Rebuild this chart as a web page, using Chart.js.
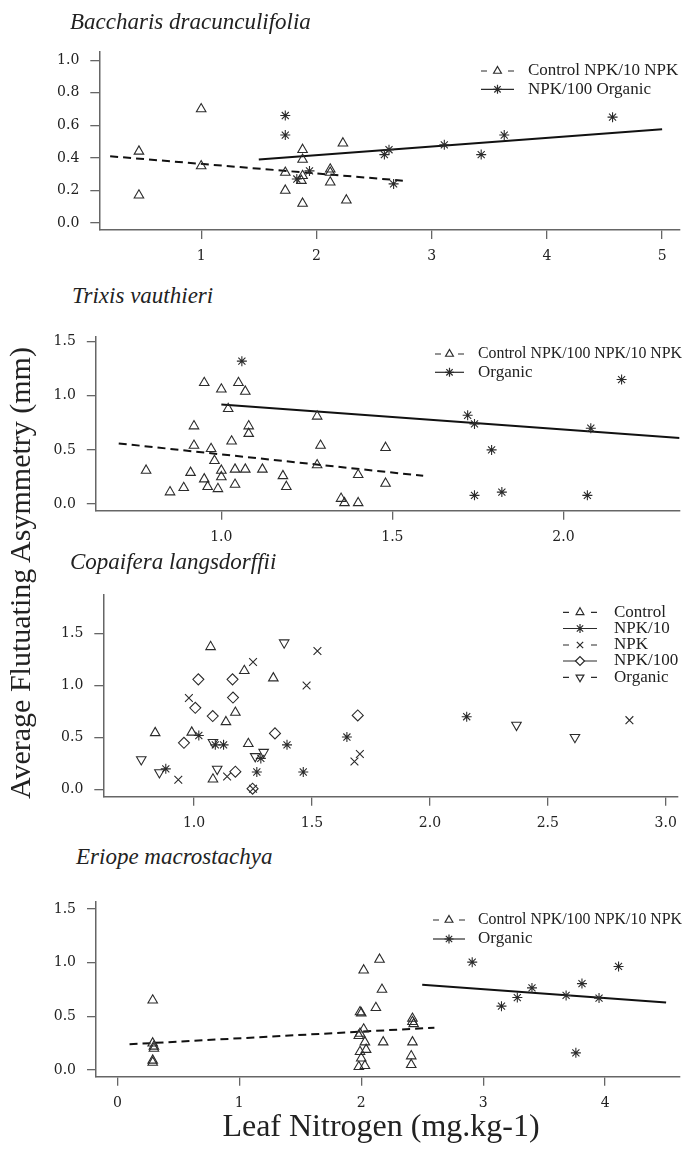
<!DOCTYPE html>
<html>
<head>
<meta charset="utf-8">
<title>Leaf nitrogen and fluctuating asymmetry</title>
<script src="https://cdn.jsdelivr.net/npm/chart.js@4.4.1/dist/chart.umd.min.js"></script>
<style>
  html, body { margin: 0; padding: 0; background: #fff; }
  #fig { position: relative; width: 683px; height: 1156px; overflow: hidden; }
  canvas { position: absolute; left: 0; }
  .sp { position: absolute; font: italic 23px "Liberation Serif", serif; color: #222; white-space: nowrap; line-height: 23px; }
  .axt { position: absolute; width: 500px; text-align: center; font-family: "Liberation Serif", serif; color: #222; white-space: nowrap; }
  #ytitle { font-size: 30px; line-height: 34px; height: 34px; left: -229.6px; top: 556px; transform: rotate(-90deg); }
  #xtitle { font-size: 32px; line-height: 36px; height: 36px; left: 131px; top: 1107px; }
</style>
</head>
<body>
<div id="fig">
  <canvas id="c1" width="686" height="247" style="top:28px"></canvas>
  <canvas id="c2" width="686" height="233" style="top:312px"></canvas>
  <canvas id="c3" width="686" height="264" style="top:571px"></canvas>
  <canvas id="c4" width="686" height="238" style="top:877px"></canvas>
  <div class="sp" style="left:70px; top:10px">Baccharis dracunculifolia</div>
  <div class="sp" style="left:72px; top:284px">Trixis vauthieri</div>
  <div class="sp" style="left:70px; top:550px">Copaifera langsdorffii</div>
  <div class="sp" style="left:76px; top:845px">Eriope macrostachya</div>
  <div id="ytitle" class="axt">Average Flutuating Asymmetry (mm)</div>
  <div id="xtitle" class="axt">Leaf Nitrogen (mg.kg-1)</div>
</div>
<script>
// ---- Baccharis dracunculifolia ----
const bacTriX = [0.46, 0.46, 1.00, 1.00, 1.73, 1.73, 1.88, 1.88, 1.88, 1.87, 1.88, 2.12, 2.12, 2.12, 2.23, 2.26];
const bacTriY = [0.44, 0.17, 0.70, 0.35, 0.31, 0.20, 0.45, 0.39, 0.29, 0.26, 0.12, 0.33, 0.31, 0.25, 0.49, 0.14];
const bacStarX = [1.73, 1.73, 1.83, 1.94, 2.59, 2.63, 2.67, 3.11, 3.43, 3.63, 4.57];
const bacStarY = [0.66, 0.54, 0.27, 0.32, 0.42, 0.45, 0.24, 0.48, 0.42, 0.54, 0.65];
const bacDashX = [0.21, 2.75];
const bacDashY = [0.41, 0.26];
const bacFitX = [1.5, 5.0];
const bacFitY = [0.39, 0.575];
const bacXTicks = [1, 2, 3, 4, 5];
const bacXLabels = ['1', '2', '3', '4', '5'];
const bacYTicks = [0, 0.2, 0.4, 0.6, 0.8, 1.0];
const bacYLabels = ['0.0', '0.2', '0.4', '0.6', '0.8', '1.0'];
const bacLegend = ['Control NPK/10 NPK', 'NPK/100 Organic'];

// ---- Trixis vauthieri ----
const triTriX = [0.78, 0.85, 0.89, 0.91, 0.92, 0.92, 0.95, 0.95, 0.96, 0.97, 0.98, 0.99, 1.00, 1.00, 1.00, 1.02, 1.03, 1.04,
                 1.04, 1.05, 1.07, 1.07, 1.08, 1.08, 1.12, 1.18, 1.19, 1.28, 1.28, 1.29, 1.35, 1.36, 1.40, 1.40, 1.48, 1.48];
const triTriY = [0.31, 0.11, 0.15, 0.29, 0.54, 0.72, 1.12, 0.23, 0.16, 0.51, 0.40, 0.14, 1.06, 0.31, 0.25, 0.88, 0.58, 0.18,
                 0.32, 1.12, 1.04, 0.32, 0.72, 0.65, 0.32, 0.26, 0.16, 0.81, 0.36, 0.54, 0.05, 0.01, 0.01, 0.27, 0.52, 0.19];
const triStarX = [1.06, 1.72, 1.74, 1.74, 1.79, 1.82, 2.07, 2.08, 2.17];
const triStarY = [1.32, 0.82, 0.74, 0.08, 0.50, 0.11, 0.08, 0.70, 1.15];
const triDashX = [0.70, 1.59];
const triDashY = [0.56, 0.26];
const triFitX = [1.0, 2.34];
const triFitY = [0.92, 0.61];
const triXTicks = [1.0, 1.5, 2.0];
const triXLabels = ['1.0', '1.5', '2.0'];
const triYTicks = [0, 0.5, 1.0, 1.5];
const triYLabels = ['0.0', '0.5', '1.0', '1.5'];
const triLegend = ['Control NPK/100 NPK/10 NPK', 'Organic'];

// ---- Copaifera langsdorffii ----
const copCtrlX = [0.835, 0.99, 1.07, 1.08, 1.135, 1.175, 1.213, 1.23, 1.336];
const copCtrlY = [0.545, 0.55, 1.37, 0.10, 0.65, 0.74, 1.14, 0.44, 1.07];
const copN10X = [0.88, 1.02, 1.09, 1.125, 1.266, 1.283, 1.394, 1.463, 1.648, 2.156];
const copN10Y = [0.20, 0.52, 0.43, 0.43, 0.17, 0.30, 0.43, 0.17, 0.505, 0.70];
const copNpkX = [0.933, 0.978, 1.14, 1.25, 1.25, 1.477, 1.523, 1.68, 1.703, 2.846];
const copNpkY = [0.095, 0.88, 0.127, 1.224, 0.01, 1.0, 1.33, 0.27, 0.343, 0.667];
const copN100X = [0.957, 1.005, 1.018, 1.079, 1.163, 1.165, 1.175, 1.248, 1.343, 1.694];
const copN100Y = [0.45, 0.785, 1.058, 0.706, 1.058, 0.884, 0.173, 0.01, 0.54, 0.712];
const copOrgX = [0.776, 0.853, 1.08, 1.098, 1.259, 1.295, 1.382, 2.367, 2.615];
const copOrgY = [0.29, 0.165, 0.455, 0.198, 0.32, 0.36, 1.41, 0.62, 0.503];
const copXTicks = [1.0, 1.5, 2.0, 2.5, 3.0];
const copXLabels = ['1.0', '1.5', '2.0', '2.5', '3.0'];
const copYTicks = [0, 0.5, 1.0, 1.5];
const copYLabels = ['0.0', '0.5', '1.0', '1.5'];
const copLegend = ['Control', 'NPK/10', 'NPK', 'NPK/100', 'Organic'];

// ---- Eriope macrostachya ----
const eriTriX = [0.29, 0.29, 0.30, 0.30, 0.29, 0.29, 1.98, 1.99, 2.00, 1.99, 2.00, 1.99, 1.98, 2.02,
                 2.02, 2.03, 2.04, 2.03, 2.15, 2.17, 2.12, 2.18, 2.42, 2.42, 2.43, 2.42, 2.41, 2.41];
const eriTriY = [0.65, 0.25, 0.22, 0.20, 0.09, 0.07, 0.03, 0.17, 0.11, 0.54, 0.53, 0.34, 0.32, 0.93,
                 0.38, 0.26, 0.19, 0.04, 1.03, 0.75, 0.58, 0.26, 0.48, 0.45, 0.43, 0.26, 0.13, 0.05];
const eriStarX = [2.91, 3.15, 3.28, 3.40, 3.68, 3.81, 3.76, 3.95, 4.11];
const eriStarY = [1.005, 0.595, 0.675, 0.765, 0.695, 0.805, 0.16, 0.67, 0.965];
const eriDashX = [0.1, 2.6];
const eriDashY = [0.24, 0.395];
const eriFitX = [2.5, 4.5];
const eriFitY = [0.795, 0.63];
const eriXTicks = [0, 1, 2, 3, 4];
const eriXLabels = ['0', '1', '2', '3', '4'];
const eriYTicks = [0, 0.5, 1.0, 1.5];
const eriYLabels = ['0.0', '0.5', '1.0', '1.5'];
const eriLegend = ['Control NPK/100 NPK/10 NPK', 'Organic'];

const ink = '#2b2b2b';
const axisGray = '#666';

function pts(xs, ys) {
    return xs.map((x, i) => ({ x: x, y: ys[i] }));
}

function markers(xs, ys, style, rotation) {
    return {
        data: pts(xs, ys),
        showLine: false,
        pointStyle: style,
        pointRotation: rotation || 0,
        pointRadius: style === 'star' ? 5 : 5.5,
        pointBorderColor: ink,
        pointBackgroundColor: 'rgba(0,0,0,0)',
        pointBorderWidth: 1.1
    };
}

function fitLine(xs, ys, dashed) {
    return {
        data: pts(xs, ys),
        showLine: true,
        borderColor: '#111',
        borderWidth: 2,
        borderDash: dashed ? [8, 5] : [],
        pointRadius: 0,
        fill: false
    };
}

function axis(isX, min, max, ticks, labels, size) {
    return {
        type: 'linear',
        min: min,
        max: max,
        afterBuildTicks: s => { s.ticks = ticks.map(v => ({ value: v })); },
        afterFit: s => { if (isX) s.height = size; else s.width = size; },
        ticks: {
            autoSkip: false,
            maxRotation: 0,
            padding: isX ? 9 : 11,
            color: '#222',
            font: { family: 'DejaVu Serif', size: 14 },
            callback: (v, i) => labels[i]
        },
        grid: { display: true, drawOnChartArea: false, drawTicks: true, tickLength: 9, color: axisGray, lineWidth: 1.3 },
        border: { display: true, color: axisGray, width: 1.5 }
    };
}

// legend drawn inside the plot: short line (dashed or solid) with the marker, then the label
function legendPlugin(lg) {
    return {
        id: 'panelLegend',
        afterDraw(chart) {
            const ctx = chart.ctx;
            ctx.save();
            lg.items.forEach((item, i) => {
                const y = lg.rows[i] - lg.canvasTop;
                const mid = (lg.x0 + lg.x1) / 2;
                ctx.strokeStyle = ink;
                ctx.lineWidth = 1.2;
                ctx.beginPath();
                if (item.dashed) {
                    ctx.moveTo(lg.x0, y); ctx.lineTo(lg.x0 + 6, y);
                    ctx.moveTo(lg.x1 - 6, y); ctx.lineTo(lg.x1, y);
                } else {
                    ctx.moveTo(lg.x0, y); ctx.lineTo(lg.x1, y);
                }
                ctx.stroke();
                ctx.fillStyle = '#fff';
                Chart.helpers.drawPoint(ctx, {
                    pointStyle: item.style, radius: 4.5, rotation: item.rotation || 0, borderWidth: 1.1
                }, mid, y);
                ctx.fillStyle = '#222';
                ctx.font = '17px "Liberation Serif"';
                ctx.textBaseline = 'middle';
                ctx.textAlign = 'left';
                ctx.fillText(item.label, lg.textX, y, 682 - lg.textX);
            });
            ctx.restore();
        }
    };
}

function makePanel(id, p, datasets, lg) {
    new Chart(document.getElementById(id), {
        type: 'scatter',
        data: { datasets: datasets },
        options: {
            responsive: false,
            animation: false,
            events: [],
            layout: { padding: { top: p.plotTop - p.canvasTop, left: 0, right: 0, bottom: 0 } },
            plugins: { legend: { display: false }, tooltip: { enabled: false } },
            scales: {
                x: axis(true, p.xMin, p.xMax, p.xTicks, p.xLabels, p.canvasBottom - p.plotBottom),
                y: axis(false, p.yMin, p.yMax, p.yTicks, p.yLabels, p.plotLeft)
            }
        },
        plugins: [legendPlugin(lg)]
    });
}

makePanel('c1', {
    canvasTop: 28, canvasBottom: 275, plotTop: 51.7, plotBottom: 230, plotLeft: 99.3,
    xMin: 0.116, xMax: 5.15, yMin: -0.043, yMax: 1.052,
    xTicks: bacXTicks, xLabels: bacXLabels, yTicks: bacYTicks, yLabels: bacYLabels
}, [
    markers(bacTriX, bacTriY, 'triangle'),
    markers(bacStarX, bacStarY, 'star'),
    fitLine(bacDashX, bacDashY, true),
    fitLine(bacFitX, bacFitY, false)
], {
    canvasTop: 28, x0: 481, x1: 514, textX: 528, rows: [71, 89.3],
    items: [
        { label: bacLegend[0], dashed: true, style: 'triangle' },
        { label: bacLegend[1], dashed: false, style: 'star' }
    ]
});

makePanel('c2', {
    canvasTop: 312, canvasBottom: 545, plotTop: 336.7, plotBottom: 510.7, plotLeft: 95.8,
    xMin: 0.633, xMax: 2.339, yMin: -0.062, yMax: 1.546,
    xTicks: triXTicks, xLabels: triXLabels, yTicks: triYTicks, yLabels: triYLabels
}, [
    markers(triTriX, triTriY, 'triangle'),
    markers(triStarX, triStarY, 'star'),
    fitLine(triDashX, triDashY, true),
    fitLine(triFitX, triFitY, false)
], {
    canvasTop: 312, x0: 435, x1: 464, textX: 478, rows: [354, 372.3],
    items: [
        { label: triLegend[0], dashed: true, style: 'triangle' },
        { label: triLegend[1], dashed: false, style: 'star' }
    ]
});

makePanel('c3', {
    canvasTop: 571, canvasBottom: 835, plotTop: 595, plotBottom: 796.7, plotLeft: 103.3,
    xMin: 0.615, xMax: 3.05, yMin: -0.067, yMax: 1.867,
    xTicks: copXTicks, xLabels: copXLabels, yTicks: copYTicks, yLabels: copYLabels
}, [
    markers(copCtrlX, copCtrlY, 'triangle'),
    markers(copN10X, copN10Y, 'star'),
    markers(copNpkX, copNpkY, 'crossRot'),
    markers(copN100X, copN100Y, 'rectRot'),
    markers(copOrgX, copOrgY, 'triangle', 180)
], {
    canvasTop: 571, x0: 563, x1: 597, textX: 614, rows: [612.3, 628.5, 645, 661, 677.3],
    items: [
        { label: copLegend[0], dashed: true, style: 'triangle' },
        { label: copLegend[1], dashed: false, style: 'star' },
        { label: copLegend[2], dashed: true, style: 'crossRot' },
        { label: copLegend[3], dashed: false, style: 'rectRot' },
        { label: copLegend[4], dashed: true, style: 'triangle', rotation: 180 }
    ]
});

makePanel('c4', {
    canvasTop: 877, canvasBottom: 1115, plotTop: 901.7, plotBottom: 1076.7, plotLeft: 96,
    xMin: -0.175, xMax: 4.609, yMin: -0.062, yMax: 1.568,
    xTicks: eriXTicks, xLabels: eriXLabels, yTicks: eriYTicks, yLabels: eriYLabels
}, [
    markers(eriTriX, eriTriY, 'triangle'),
    markers(eriStarX, eriStarY, 'star'),
    fitLine(eriDashX, eriDashY, true),
    fitLine(eriFitX, eriFitY, false)
], {
    canvasTop: 877, x0: 433, x1: 465, textX: 478, rows: [920, 939],
    items: [
        { label: eriLegend[0], dashed: true, style: 'triangle' },
        { label: eriLegend[1], dashed: false, style: 'star' }
    ]
});
</script>
</body>
</html>
